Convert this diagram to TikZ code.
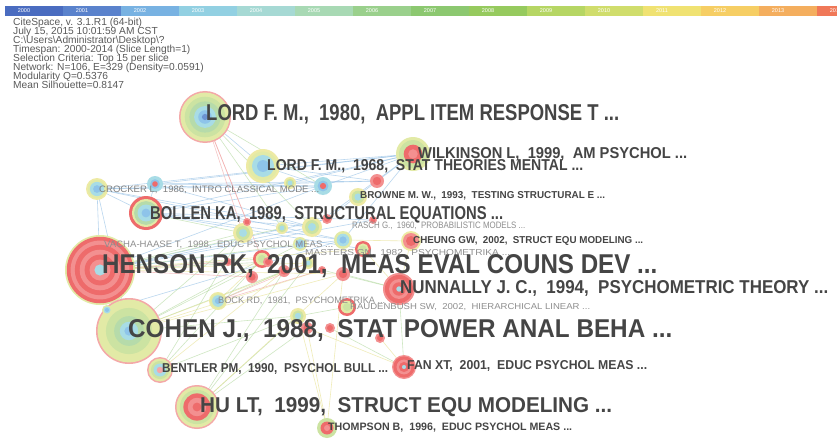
\documentclass[tikz,border=0pt]{standalone}
\usepackage{fontspec}
\setmainfont{Liberation Sans}
\usepackage{graphicx}

% year palette of the timeline bar
\definecolor{yr00}{HTML}{4A6CC0}
\definecolor{yr01}{HTML}{5A82CC}
\definecolor{yr02}{HTML}{78B2E2}
\definecolor{yr03}{HTML}{92D0E2}
\definecolor{yr04}{HTML}{A6D9D4}
\definecolor{yr05}{HTML}{A8D9B4}
\definecolor{yr06}{HTML}{9AD08C}
\definecolor{yr07}{HTML}{8CC870}
\definecolor{yr08}{HTML}{96CA5E}
\definecolor{yr09}{HTML}{B6D664}
\definecolor{yr10}{HTML}{D0DD6C}
\definecolor{yr11}{HTML}{F0E272}
\definecolor{yr12}{HTML}{F6CE64}
\definecolor{yr13}{HTML}{F4AE5E}
\definecolor{yr14}{HTML}{F07858}
% tree-ring colours
\definecolor{rimpink}{HTML}{F4A8A8}
\definecolor{ringyl}{HTML}{EEEAA4}
\definecolor{ringyg}{HTML}{E2EAA6}
\definecolor{ringlg}{HTML}{CCE3A2}
\definecolor{ringg}{HTML}{B6DBAA}
\definecolor{ringc}{HTML}{A8DCE6}
\definecolor{ringlb}{HTML}{8EC4EA}
\definecolor{ringb}{HTML}{6C93D0}
\definecolor{hotA}{HTML}{EE6B6B}
\definecolor{hotB}{HTML}{F39090}
% edges and text
\definecolor{eblue}{HTML}{8DBCE4}
\definecolor{egreen}{HTML}{AFD79A}
\definecolor{eyellow}{HTML}{E6E08A}
\definecolor{epink}{HTML}{F0A0A0}
\definecolor{lab}{HTML}{454545}
\definecolor{labfaint}{HTML}{8E8E8E}
\definecolor{infotext}{HTML}{5A5A5A}

% ring palettes, outer to inner: fraction/colour
\def\palcool{1/rimpink,0.94/ringyg,0.78/ringlg,0.6/ringg,0.42/ringc,0.26/ringlb,0.12/ringb}
\def\palcohen{1/rimpink,0.95/ringyg,0.7/ringlg,0.45/ringg,0.28/ringc,0.14/ringlb}
\def\palhot{1/ringyg,0.95/hotA,0.84/hotB,0.72/hotA,0.58/hotB,0.44/hotA,0.3/hotB,0.16/ringc}
\def\palbollen{1/hotA,0.82/ringyg,0.7/ringg,0.5/ringc,0.26/ringlb}
\def\palhu{1/rimpink,0.93/ringyg,0.78/ringlg,0.62/hotA,0.42/hotB,0.2/hotA}
\def\palred{1/hotB,0.88/hotA,0.62/hotB,0.42/hotA,0.17/ringc}
\def\palwilk{1/ringyg,0.82/ringlg,0.55/hotA,0.28/hotB}
\def\palyb{1/ringyl,0.85/ringyg,0.65/ringc,0.35/ringlb}
\def\palbent{1/rimpink,0.88/ringyg,0.7/ringlg,0.5/ringc,0.25/rimpink}
\def\palgr{1/ringlg,0.65/hotA,0.3/hotB}
\def\palraud{1/hotA,0.7/ringyg,0.45/ringlg}
\def\palcheung{1/ringyl,0.8/hotB,0.5/hotA}
\def\palsred{1/hotB,0.6/hotA}
\def\palsgreen{1/ringyl,0.7/ringlg,0.4/ringc}
\def\palsblue{1/ringyg,0.7/ringc,0.4/ringlb}
\def\palcyred{1/ringc,0.6/ringlb,0.35/hotA}

% concentric rings round a named centre: name, radius, palette
\newcommand\treerings[3]{\foreach \f/\c in #3 {\fill[\c] (#1) circle ({\f*#2});}}

\begin{document}
\begin{tikzpicture}[x=1pt,y=-1pt,
  eb/.style={draw=eblue,line width=0.6pt,draw opacity=0.6},
  eg/.style={draw=egreen,line width=0.6pt,draw opacity=0.6},
  ey/.style={draw=eyellow,line width=0.6pt,draw opacity=0.6},
  ep/.style={draw=epink,line width=0.6pt,draw opacity=0.6},
  big/.style={anchor=base west,inner sep=0pt,text=lab,font=\bfseries},
  faint/.style={anchor=base west,inner sep=0pt,text=labfaint},
  info/.style={anchor=base west,inner sep=0pt,text=infotext,font=\fontsize{10.2}{10}\selectfont},
  yearlab/.style={anchor=center,inner sep=0pt,text=white,font=\fontsize{5.5}{6}\selectfont}]
\useasboundingbox (0,0) rectangle (837,441);
\fill[white] (0,0) rectangle (837,441);

% timeline bar, one slice per year
\begin{scope}
\clip (0,0) rectangle (837,441);
\foreach \c [count=\i from 0] in {yr00,yr01,yr02,yr03,yr04,yr05,yr06,yr07,yr08,yr09,yr10,yr11,yr12,yr13,yr14} {
  \fill[\c] ({5+58*\i},6) rectangle ({63.5+58*\i},16);
  \node[yearlab] (year\i) at ({24+58*\i},11) {\the\numexpr2000+\i\relax};
}
\end{scope}

% run summary
\node[info] (i1) at (13,26) {CiteSpace, v. 3.1.R1 (64-bit)};
\node[info] (i2) at (13,35) {July 15, 2015 10:01:59 AM CST};
\node[info] (i3) at (13,44) {C:\textbackslash Users\textbackslash Administrator\textbackslash Desktop\textbackslash ?};
\node[info] (i4) at (13,53) {Timespan: 2000-2014 (Slice Length=1)};
\node[info] (i5) at (13,62) {Selection Criteria: Top 15 per slice};
\node[info] (i6) at (13,71) {Network: N=106, E=329 (Density=0.0591)};
\node[info] (i7) at (13,80) {Modularity Q=0.5376};
\node[info] (i8) at (13,89) {Mean Silhouette=0.8147};

% cited references
\coordinate (lord80) at (205,117);
\coordinate (lord68) at (263,166);
\coordinate (wilk) at (413,154);
\coordinate (crocker) at (97,189);
\coordinate (c19) at (155,184);
\coordinate (bollen) at (146,213);
\coordinate (henson) at (100,270);
\coordinate (cohen) at (129,331);
\coordinate (bentler) at (160,370);
\coordinate (hu) at (197,407);
\coordinate (thompson) at (327,428);
\coordinate (fan) at (404,367);
\coordinate (nunn) at (399,289);
\coordinate (raud) at (347,307);
\coordinate (bock) at (218,301);
\coordinate (cheung) at (411,241);
\coordinate (browne) at (358,197);
\coordinate (n1) at (323,186);
\coordinate (n2) at (377,181);
\coordinate (n3) at (243,233);
\coordinate (n4) at (312,227);
\coordinate (n5) at (343,240);
\coordinate (n6) at (327,219);
\coordinate (n7) at (282,228);
\coordinate (n8) at (363,249);
\coordinate (n9) at (262,259);
\coordinate (n10) at (284,271);
\coordinate (n11) at (308,263);
\coordinate (n12) at (343,274);
\coordinate (n13) at (252,277);
\coordinate (n14) at (298,316);
\coordinate (n15) at (307,328);
\coordinate (n16) at (330,328);
\coordinate (n17) at (380,338);
\coordinate (n18) at (107,310);
\coordinate (n19) at (300,244);
\coordinate (n20) at (247,222);
\coordinate (n21) at (373,220);
\coordinate (n22) at (290,183);
\coordinate (n23) at (228,262);
\coordinate (n24) at (268,262);
\coordinate (n25) at (322,270);

% co-citation links
\foreach \a/\b in {crocker/n1,crocker/wilk,c19/n1,c19/wilk,c19/n2,lord68/wilk,lord68/n1,lord68/n2,
  crocker/henson,crocker/bollen,bollen/n1,bollen/n5,bollen/n4,bollen/wilk,n1/wilk,n5/wilk,n6/wilk,
  crocker/n5,c19/n4,henson/n5,henson/n4,henson/n1,lord80/lord68,c19/bollen,crocker/n2,n22/wilk,
  bollen/n21,henson/n6,n4/wilk,bollen/n8,crocker/n4,henson/n21,crocker/cohen,n18/n5}
  \draw[eb] (\a) -- (\b);
\foreach \a/\b in {lord80/n7,lord80/n1,henson/n3,henson/n9,henson/n19,cohen/n9,cohen/n14,cohen/n3,
  hu/n14,hu/n15,fan/nunn,fan/n16,raud/n14,nunn/n12,bentler/n9,bentler/n14,bock/n10,cohen/henson,
  n18/henson,n18/cohen,lord80/n4,henson/n7,bollen/n3,cohen/n10,hu/n11,cohen/n19,bentler/n3,
  henson/n24,hu/n10,nunn/n25}
  \draw[eg] (\a) -- (\b);
\foreach \a/\b in {henson/n12,henson/n11,cohen/n11,cohen/n12,bock/n9,thompson/n15,thompson/n12,
  hu/n12,fan/n17,nunn/n8,cheung/n5,cheung/nunn,bentler/n10,fan/n15,henson/n8,cohen/n25,thompson/n14}
  \draw[ey] (\a) -- (\b);
\foreach \a/\b in {lord80/n3,lord80/n9,bock/n11,henson/n13,lord80/n20,henson/n23,bock/n25}
  \draw[ep] (\a) -- (\b);

% nodes as tree rings
\treerings{lord80}{26}{\palcool}
\treerings{lord68}{17}{\palyb}
\treerings{wilk}{17}{\palwilk}
\treerings{crocker}{11}{\palyb}
\treerings{c19}{8}{\palcyred}
\treerings{bollen}{17}{\palbollen}
\treerings{henson}{35}{\palhot}
\treerings{cohen}{33}{\palcohen}
\treerings{bentler}{13}{\palbent}
\treerings{hu}{22}{\palhu}
\treerings{thompson}{10}{\palgr}
\treerings{fan}{12}{\palred}
\treerings{nunn}{16}{\palred}
\treerings{raud}{9}{\palraud}
\treerings{bock}{9}{\palyb}
\treerings{cheung}{10}{\palcheung}
\treerings{browne}{9}{\palsgreen}
\treerings{n1}{9}{\palcyred}
\treerings{n2}{7}{\palsred}
\treerings{n3}{10}{\palsgreen}
\treerings{n4}{10}{\palsgreen}
\treerings{n5}{9}{\palsblue}
\treerings{n6}{5}{\palsred}
\treerings{n7}{6}{\palsgreen}
\treerings{n8}{8}{\palraud}
\treerings{n9}{9}{\palraud}
\treerings{n10}{6}{\palsred}
\treerings{n11}{6}{\palsgreen}
\treerings{n12}{7}{\palsred}
\treerings{n13}{6}{\palsred}
\treerings{n14}{8}{\palsgreen}
\treerings{n15}{6}{\palsred}
\treerings{n16}{5}{\palsred}
\treerings{n17}{5}{\palsred}
\treerings{n18}{5}{\palsblue}
\treerings{n19}{7}{\palsblue}
\treerings{n20}{4}{\palsred}
\treerings{n21}{4}{\palsred}
\treerings{n22}{6}{\palsgreen}
\treerings{n23}{4}{\palsred}
\treerings{n24}{5}{\palsred}
\treerings{n25}{4}{\palsred}

% labels of the less cited references
\node[faint] (tVacha) at (104,247) {\resizebox{229pt}{6.5pt}{VACHA-HAASE T,~~1998,~~EDUC PSYCHOL MEAS ...}};
\node[faint] (tRasch) at (352,228) {\resizebox{173pt}{6.5pt}{RASCH G.,~~1960,~~PROBABILISTIC MODELS ...}};
\node[faint] (tMasters) at (305,255) {\resizebox{205pt}{6pt}{MASTERS GN,~~1982,~~PSYCHOMETRIKA ...}};
\node[faint] (tBock) at (218,303) {\resizebox{167pt}{6.5pt}{BOCK RD,~~1981,~~PSYCHOMETRIKA ...}};
\node[faint] (tRaud) at (350,309) {\resizebox{240pt}{6pt}{RAUDENBUSH SW,~~2002,~~HIERARCHICAL LINEAR ...}};
\node[faint,text=gray] (tCrocker) at (99,192) {\resizebox{220pt}{6.5pt}{CROCKER L,~~1986,~~INTRO CLASSICAL MODE ...}};

% labels of the most cited references
\node[big] (tBrowne) at (360,198) {\resizebox{245pt}{7pt}{BROWNE M. W.,~~1993,~~TESTING STRUCTURAL E ...}};
\node[big] (tCheung) at (413,243) {\resizebox{230pt}{7pt}{CHEUNG GW,~~2002,~~STRUCT EQU MODELING ...}};
\node[big] (tThompson) at (328,430) {\resizebox{244pt}{7.5pt}{THOMPSON B,~~1996,~~EDUC PSYCHOL MEAS ...}};
\node[big] (tBentler) at (162,372) {\resizebox{226pt}{9pt}{BENTLER PM,~~1990,~~PSYCHOL BULL ...}};
\node[big] (tFan) at (407,369) {\resizebox{240pt}{9pt}{FAN XT,~~2001,~~EDUC PSYCHOL MEAS ...}};
\node[big] (tLord68) at (267,170) {\resizebox{316pt}{11pt}{LORD F. M.,~~1968,~~STAT THEORIES MENTAL ...}};
\node[big] (tWilk) at (418,158) {\resizebox{269pt}{11pt}{WILKINSON L,~~1999,~~AM PSYCHOL ...}};
\node[big] (tBollen) at (150,219) {\resizebox{353pt}{13pt}{BOLLEN KA,~~1989,~~STRUCTURAL EQUATIONS ...}};
\node[big] (tNunn) at (400,293) {\resizebox{428pt}{13pt}{NUNNALLY J. C.,~~1994,~~PSYCHOMETRIC THEORY ...}};
\node[big] (tHu) at (200,412) {\resizebox{412pt}{15pt}{HU LT,~~1999,~~STRUCT EQU MODELING ...}};
\node[big] (tLord80) at (206,121) {\resizebox{413pt}{16pt}{LORD F. M.,~~1980,~~APPL ITEM RESPONSE T ...}};
\node[big] (tHenson) at (102,273) {\resizebox{555pt}{19pt}{HENSON RK,~~2001,~~MEAS EVAL COUNS DEV ...}};
\node[big] (tCohen) at (128,337) {\resizebox{544pt}{18pt}{COHEN J.,~~1988,~~STAT POWER ANAL BEHA ...}};
\end{tikzpicture}
\end{document}
